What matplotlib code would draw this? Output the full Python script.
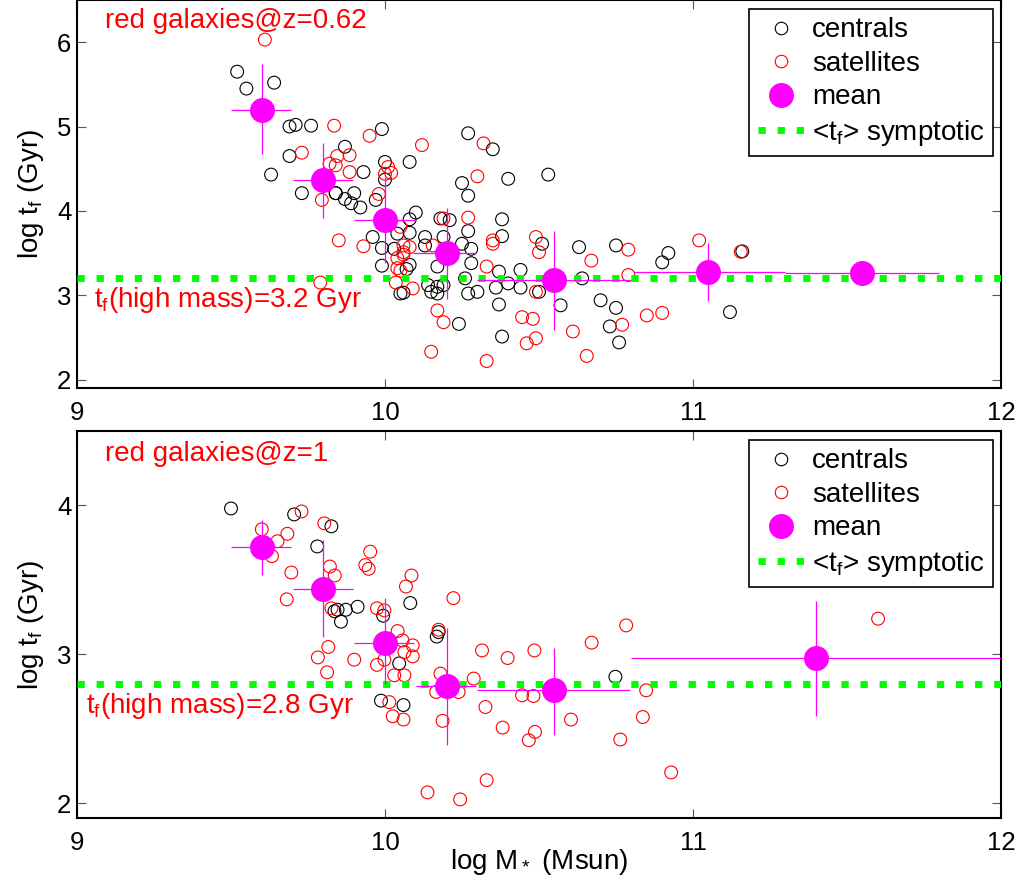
import matplotlib
matplotlib.use("Agg")
import matplotlib.pyplot as plt
from matplotlib.lines import Line2D
import numpy as np

plt.rcParams['font.family'] = ['Liberation Sans', 'DejaVu Sans']
plt.rcParams['mathtext.default'] = 'regular'

# ---------------- data: z = 0.62 panel ----------------
top_cen_x = [9.52, 9.55, 9.64, 9.69, 9.71, 9.76, 9.99, 9.69, 9.63, 9.73, 9.87, 9.93, 9.84, 9.87,
             9.90, 9.89, 9.92, 9.97, 10.00, 10.00, 9.96, 9.99, 10.03, 9.99, 10.05, 10.27, 10.35,
             10.08, 10.25, 10.27, 10.40, 10.53, 10.10, 10.08, 10.18, 10.21, 10.38, 10.27, 10.38,
             10.08, 10.04, 10.13, 10.13, 10.19, 10.25, 10.28, 10.51, 10.28, 10.08, 10.07, 10.17,
             10.26, 10.37, 10.44, 10.63, 10.75, 10.92, 10.90, 10.64, 10.14, 10.15, 10.17, 10.19,
             10.06, 10.27, 10.30, 10.36, 10.40, 10.44, 10.50, 10.37, 10.57, 10.70, 10.75, 10.73,
             10.76, 10.24, 10.38, 11.16, 11.12, 10.17, 9.84]
top_cen_y = [5.65, 5.45, 5.52, 5.00, 5.02, 5.01, 4.97, 4.65, 4.43, 4.21, 4.76, 4.46, 4.21, 4.14,
             4.21, 4.09, 4.04, 4.13, 4.58, 4.37, 3.69, 3.56, 3.55, 3.35, 3.02, 4.92, 4.73,
             4.58, 4.33, 4.18, 4.38, 4.43, 3.98, 3.90, 3.91, 3.89, 3.90, 3.76, 3.70,
             3.74, 3.73, 3.69, 3.59, 3.69, 3.61, 3.55, 3.61, 3.38, 3.36, 3.31, 3.34,
             3.20, 3.28, 3.30, 3.57, 3.59, 3.50, 3.39, 3.20, 3.12, 3.04, 3.10, 3.12,
             3.03, 3.02, 3.04, 3.09, 3.14, 3.09, 3.04, 2.89, 2.88, 2.94, 2.85, 2.63,
             2.44, 2.66, 2.51, 3.52, 2.80, 3.02, 4.21]

top_sat_x = [9.61, 9.835, 9.95, 9.73, 9.82, 9.845, 9.885, 9.84, 9.885, 10.01, 10.00, 10.02, 9.98,
             9.795, 9.85, 9.93, 10.04, 9.79, 10.035, 10.12, 10.32, 10.30, 10.27, 10.19, 10.05,
             10.35, 10.35, 10.49, 10.50, 10.79, 10.67, 11.02, 10.06, 10.08, 10.155, 10.06, 10.33,
             10.05, 10.09, 10.49, 10.79, 10.17, 10.19, 10.445, 10.48, 10.85, 10.90, 10.77, 10.61,
             10.49, 10.46, 10.15, 10.33, 10.655, 11.155, 10.06, 10.04]
top_sat_y = [6.03, 5.01, 4.89, 4.69, 4.56, 4.65, 4.66, 4.54, 4.46, 4.52, 4.44, 4.45, 4.20,
             4.13, 3.65, 3.58, 3.44, 3.15, 3.15, 4.78, 4.80, 4.41, 3.92, 3.91, 3.81,
             3.65, 3.61, 3.69, 3.51, 3.54, 3.41, 3.65, 3.59, 3.57, 3.59, 3.48, 3.34,
             3.29, 3.08, 3.04, 3.24, 2.82, 2.68, 2.74, 2.72, 2.76, 2.79, 2.65, 2.57,
             2.49, 2.43, 2.33, 2.22, 2.28, 3.515, 3.51, 3.32]

top_mean_x = [9.60, 9.80, 10.00, 10.20, 10.55, 11.05, 11.55]
top_mean_y = [5.20, 4.37, 3.89, 3.50, 3.18, 3.27, 3.26]
top_xlo = [9.50, 9.70, 9.90, 10.09, 10.30, 10.81, 11.30]
top_xhi = [9.695, 9.895, 10.10, 10.296, 10.796, 11.30, 11.80]
top_ylo = [4.67, 3.92, 3.38, 2.96, 2.59, 2.93, 3.26]
top_yhi = [5.74, 4.81, 4.40, 4.03, 3.76, 3.62, 3.26]
top_asym = 3.2

# ---------------- data: z = 1 panel ----------------
bot_cen_x = [9.50, 9.705, 9.826, 9.78, 9.846, 9.873, 9.911, 9.857, 9.836, 9.994, 10.046, 9.987,
             10.082, 10.174, 10.168, 10.06, 10.748]
bot_cen_y = [3.98, 3.94, 3.86, 3.725, 3.30, 3.30, 3.32, 3.22, 3.29, 3.26, 2.94, 2.69,
             3.345, 3.15, 3.12, 2.66, 2.85]

bot_sat_x = [9.60, 9.651, 9.683, 9.729, 9.633, 9.696, 9.681, 9.803, 9.821, 9.837, 9.952, 9.936,
             9.947, 9.826, 9.974, 9.816, 9.782, 9.812, 9.90, 9.974, 9.998, 10.03, 10.014, 10.025,
             10.041, 10.086, 10.068, 10.222, 9.998, 10.057, 10.09, 10.063, 10.09, 10.063, 10.06,
             10.174, 10.18, 10.166, 10.239, 10.187, 10.315, 10.398, 10.485, 10.671, 10.783,
             10.288, 10.326, 10.445, 10.482, 10.382, 10.467, 10.487, 10.604, 10.848, 10.837,
             10.764, 10.929, 10.138, 10.244, 10.33, 11.601]
bot_sat_y = [3.84, 3.76, 3.81, 3.96, 3.66, 3.55, 3.37, 3.88, 3.59, 3.53, 3.69, 3.60,
             3.575, 3.31, 3.31, 3.05, 2.98, 2.88, 2.965, 2.93, 2.965, 2.86, 2.68, 2.585,
             3.157, 3.53, 3.456, 3.378, 3.296, 3.094, 3.061, 3.016, 2.987, 2.86, 2.563,
             3.166, 2.871, 2.748, 2.748, 2.554, 3.027, 2.976, 3.027, 3.079, 3.195,
             2.838, 2.647, 2.726, 2.721, 2.509, 2.424, 2.48, 2.563, 2.759, 2.58,
             2.429, 2.208, 2.074, 2.027, 2.156, 3.24]

bot_mean_x = [9.60, 9.80, 10.00, 10.20, 10.55, 11.40]
bot_mean_y = [3.72, 3.44, 3.08, 2.79, 2.76, 2.975]
bot_xlo = [9.50, 9.70, 9.90, 10.10, 10.30, 10.80]
bot_xhi = [9.695, 9.895, 10.095, 10.296, 10.796, 12.00]
bot_ylo = [3.53, 3.12, 2.80, 2.395, 2.46, 2.59]
bot_yhi = [3.905, 3.77, 3.38, 3.18, 3.04, 3.356]
bot_asym = 2.8

xlim = (9, 12)
xticks = [9, 10, 11, 12]

MAG = '#ff00ff'
GREEN = '#00ff00'
FS_TICK = 18.5
FS_TXT = 20

fig = plt.figure(figsize=(10.2, 8.82), dpi=100)
W, H = 1020.0, 882.0
ax1 = fig.add_axes([77 / W, (H - 388) / H, 924 / W, 388 / H])
ax2 = fig.add_axes([77 / W, (H - 818.3) / H, 924 / W, 387.3 / H])


def draw(ax, cx, cy, sx, sy, mx, my, xlo, xhi, ylo, yhi, asym, ylim, yticks, title, note):
    ax.scatter(cx, cy, s=85, facecolors='none', edgecolors='black', linewidths=0.8, zorder=2)
    ax.scatter(sx, sy, s=85, facecolors='none', edgecolors='red', linewidths=0.8, zorder=2)
    ax.plot(xlim, [asym, asym], color=GREEN, lw=5, linestyle=(0, (1.05, 1.7)),
            dash_capstyle='butt', zorder=3)
    mx = np.array(mx); my = np.array(my)
    xerr = [mx - np.array(xlo), np.array(xhi) - mx]
    yerr = [my - np.array(ylo), np.array(yhi) - my]
    ax.errorbar(mx, my, xerr=xerr, yerr=yerr, fmt='none', ecolor=MAG, elinewidth=0.9,
                capsize=0, zorder=4)
    ax.plot(mx, my, 'o', color=MAG, markersize=18, markeredgewidth=0, zorder=5)
    ax.set_xlim(*xlim)
    ax.set_ylim(*ylim)
    ax.set_xticks(xticks)
    ax.set_yticks(yticks)
    ax.tick_params(direction='in', length=6.3, width=0.8, color='#555555', top=True,
                   right=True, labelsize=FS_TICK)
    ax.tick_params(axis='x', pad=9)
    ax.tick_params(axis='y', pad=4)
    for sp in ax.spines.values():
        sp.set_linewidth(1.5)
    ax.set_ylabel('log t$_f$ (Gyr)', fontsize=FS_TXT, labelpad=8)
    ax.text(9.09, title[1], title[0], color='red', fontsize=FS_TXT, va='baseline')
    ax.text(note[1], note[2], note[0], color='red', fontsize=FS_TXT, va='baseline', zorder=6)
    handles = [
        Line2D([], [], ls='none', marker='o', markersize=9, markerfacecolor='none',
               markeredgecolor='black', markeredgewidth=0.8),
        Line2D([], [], ls='none', marker='o', markersize=9, markerfacecolor='none',
               markeredgecolor='red', markeredgewidth=0.8),
        Line2D([], [], ls='none', marker='o', markersize=18, color=MAG, markeredgewidth=0),
        Line2D([], [], color=GREEN, lw=5, linestyle=(0, (1.05, 1.7)), dash_capstyle='butt'),
    ]
    labels = ['centrals', 'satellites', 'mean', '<t$_f$> symptotic']
    leg = ax.legend(handles, labels, loc='upper right', bbox_to_anchor=(0.9913, 0.977),
                    borderaxespad=0, fontsize=FS_TXT, frameon=True, fancybox=False,
                    edgecolor='black', framealpha=1, labelspacing=0.27, handlelength=1.7,
                    handletextpad=0.25, borderpad=0.3)
    leg.get_frame().set_linewidth(1.2)
    leg.set_zorder(10)


draw(ax1, top_cen_x, top_cen_y, top_sat_x, top_sat_y, top_mean_x, top_mean_y,
     top_xlo, top_xhi, top_ylo, top_yhi, top_asym, (1.9, 6.5), [2, 3, 4, 5, 6],
     ('red galaxies@z=0.62', 6.166), ('t$_f$(high mass)=3.2 Gyr', 9.055, 2.862))
draw(ax2, bot_cen_x, bot_cen_y, bot_sat_x, bot_sat_y, bot_mean_x, bot_mean_y,
     bot_xlo, bot_xhi, bot_ylo, bot_yhi, bot_asym, (1.9, 4.5), [2, 3, 4],
     ('red galaxies@z=1', 4.30), ('t$_f$(high mass)=2.8 Gyr', 9.028, 2.607))
fig.text(539 / W, (H - 862) / H, 'log M$_*$ (Msun)', fontsize=FS_TXT, ha='center', va='center')

fig.savefig('out.png', dpi=100)
